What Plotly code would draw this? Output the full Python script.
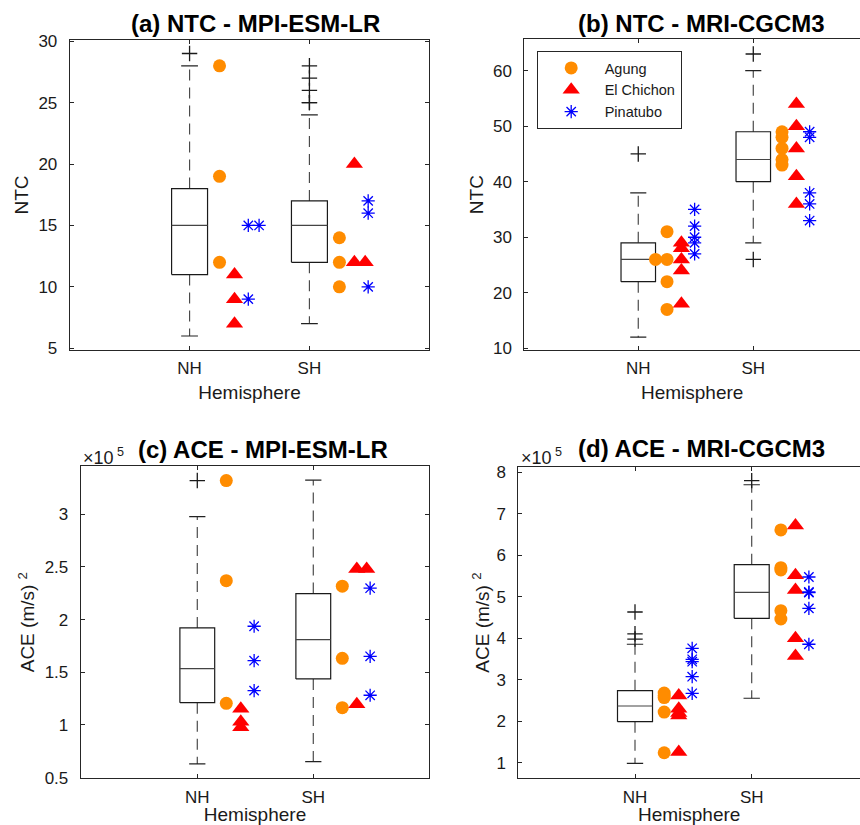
import plotly.graph_objects as go

# ---------------- data ----------------
hemispheres = ["NH", "SH"]
volcanoes = ["Agung", "El Chichon", "Pinatubo"]

# (a) NTC - MPI-ESM-LR
a_low = [6, 7]
a_q1 = [11, 12]
a_med = [15, 15]
a_q3 = [18, 17]
a_high = [28, 24]
a_outliers = [[29], [25, 25, 26, 27, 28]]
a_agung = [[28, 19, 12], [14, 12, 10]]
a_elchichon = [[11, 9, 7], [20, 12, 12]]
a_pinatubo = [[15, 15, 9], [17, 16, 10]]

# (b) NTC - MRI-CGCM3
b_low = [12, 29]
b_q1 = [22, 40]
b_med = [26, 44]
b_q3 = [29, 49]
b_high = [38, 60]
b_outliers = [[45], [63, 26]]
b_agung = [[31, 26, 26, 22, 17], [49, 48, 46, 44, 43]]
b_elchichon = [[29, 28, 26, 24, 18], [54, 50, 46, 41, 36]]
b_pinatubo = [[35, 32, 30, 29, 27], [49, 48, 38, 36, 33]]

# (c) ACE - MPI-ESM-LR  (units of 1e5 (m/s)^2)
c_low = [0.63, 0.652]
c_q1 = [1.212, 1.437]
c_med = [1.535, 1.81]
c_q3 = [1.921, 2.247]
c_high = [2.977, 3.323]
c_outliers = [[3.32], []]
c_agung = [[3.32, 2.37, 1.206], [2.317, 1.633, 1.164]]
c_elchichon = [[1.155, 1.03, 0.978], [2.48, 2.48, 1.197]]
c_pinatubo = [[1.937, 1.61, 1.326], [2.298, 1.652, 1.282]]

# (d) ACE - MRI-CGCM3  (units of 1e5 (m/s)^2)
d_low = [0.986, 2.553]
d_q1 = [1.99, 4.48]
d_med = [2.367, 5.108]
d_q3 = [2.736, 5.773]
d_high = [3.855, 7.70]
d_outliers = [[4.633, 4.107, 3.98], [7.80]]
d_agung = [[2.68, 2.62, 2.57, 2.22, 1.24], [6.61, 5.70, 5.645, 4.665, 4.464]]
d_elchichon = [[2.62, 2.30, 2.20, 2.14, 1.26], [6.72, 5.52, 5.16, 4.0, 3.57]]
d_pinatubo = [[3.758, 3.493, 3.435, 3.073, 2.673], [5.476, 5.115, 5.10, 4.72, 3.855]]

titles = ["(a) NTC - MPI-ESM-LR", "(b) NTC - MRI-CGCM3",
          "(c) ACE - MPI-ESM-LR", "(d) ACE - MRI-CGCM3"]
ylabels = ["NTC", "NTC", "ACE (m/s) <sup>2</sup>", "ACE (m/s) <sup>2</sup>"]

# ---------------- style ----------------
FONT = "Liberation Sans, Arial, Helvetica, sans-serif"
AXC = "#262626"
BOX_HALF = 0.15
CAP_HALF = 0.07
OFFSETS = [0.25, 0.375, 0.49]
DUP_SHIFT = [0.09, -0.10, 0.085, 0.0]
SYMBOLS = [dict(symbol="circle", size=13, color="#FF8C00"),
           dict(symbol="triangle-up", size=15, color="#FF0000"),
           dict(symbol="asterisk-open", size=11, color="#0000FF",
                line=dict(width=1.3, color="#0000FF"))]

panels = [
    (a_low, a_q1, a_med, a_q3, a_high, a_outliers, [a_agung, a_elchichon, a_pinatubo]),
    (b_low, b_q1, b_med, b_q3, b_high, b_outliers, [b_agung, b_elchichon, b_pinatubo]),
    (c_low, c_q1, c_med, c_q3, c_high, c_outliers, [c_agung, c_elchichon, c_pinatubo]),
    (d_low, d_q1, d_med, d_q3, d_high, d_outliers, [d_agung, d_elchichon, d_pinatubo]),
]

fig = go.Figure()


def jitter(vals, base, dup):
    seen = {}
    out = []
    for v in vals:
        k = seen.get(v, 0)
        out.append(base + k * dup)
        seen[v] = k + 1
    return out


for p, (low, q1, med, q3, high, outl, series) in enumerate(panels):
    xa = "x" if p == 0 else f"x{p+1}"
    ya = "y" if p == 0 else f"y{p+1}"
    bx, by, mx, my, wx, wy, cx, cy, ox, oy = [], [], [], [], [], [], [], [], [], []
    for i, h in enumerate(hemispheres):
        c = i + 1
        bx += [c - BOX_HALF, c + BOX_HALF, c + BOX_HALF, c - BOX_HALF, c - BOX_HALF, None]
        by += [q1[i], q1[i], q3[i], q3[i], q1[i], None]
        mx += [c - BOX_HALF, c + BOX_HALF, None]
        my += [med[i], med[i], None]
        wx += [c, c, None, c, c, None]
        wy += [q3[i], high[i], None, q1[i], low[i], None]
        cx += [c - CAP_HALF, c + CAP_HALF, None, c - CAP_HALF, c + CAP_HALF, None]
        cy += [high[i], high[i], None, low[i], low[i], None]
        ox += [c] * len(outl[i])
        oy += outl[i]
    common = dict(xaxis=xa, yaxis=ya, showlegend=False, hoverinfo="skip")
    fig.add_trace(go.Scatter(x=wx, y=wy, mode="lines",
                             line=dict(color="#4a4a4a", width=1.2, dash="11px,7px"), **common))
    fig.add_trace(go.Scatter(x=cx, y=cy, mode="lines",
                             line=dict(color="#222222", width=1.2), **common))
    fig.add_trace(go.Scatter(x=bx, y=by, mode="lines",
                             line=dict(color="#1a1a1a", width=1.2), **common))
    fig.add_trace(go.Scatter(x=mx, y=my, mode="lines",
                             line=dict(color="#444444", width=1.2), **common))
    fig.add_trace(go.Scatter(x=ox, y=oy, mode="markers",
                             marker=dict(symbol="cross-thin-open", size=11, color="#1a1a1a",
                                         line=dict(width=1.3, color="#1a1a1a")),
                             **common))
    for s, name in enumerate(volcanoes):
        xs, ys = [], []
        for i in range(len(hemispheres)):
            xs += [v + i + 1 for v in jitter(series[s][i], OFFSETS[s], DUP_SHIFT[p])]
            ys += series[s][i]
        fig.add_trace(go.Scatter(x=xs, y=ys, mode="markers", name=name,
                                 legendgroup=name, showlegend=(p == 0),
                                 marker=SYMBOLS[s], xaxis=xa, yaxis=ya))

W, H = 860, 825
# pixel boxes: left, top, right, bottom
boxes = [(69.7, 40, 429.3, 350), (524.3, 39.3, 860, 350),
         (80.7, 466, 429.3, 778.3), (518.3, 466.7, 860, 778.3)]
xranges = [[0, 3], [0.009, 2.928], [-0.005, 3.0], [0, 2.928]]
yranges = [[4.86, 30.1], [9.69, 65.65], [0.494, 3.458], [0.624, 8.135]]
ydticks = [5, 10, 0.5, 1]
yticks0 = [5, 10, 0.5, 1]
ytitle_standoff = [4, 4, 4, 1]
title_x = [1.55, 1.55, 1.57, 1.57]
title_ypx = [23.5, 23.5, 450, 449]

layout = dict(width=W, height=H, margin=dict(l=0, r=0, t=0, b=0, autoexpand=False),
              paper_bgcolor="white", plot_bgcolor="white",
              font=dict(family=FONT, color="#1a1a1a"),
              legend=dict(x=536.7 / W, y=1 - 51 / H, xanchor="left", yanchor="top",
                          bordercolor=AXC, borderwidth=1, bgcolor="white",
                          font=dict(size=14.5, family=FONT, color="#1a1a1a"),
                          itemwidth=57, tracegroupgap=0, entrywidth=88),
              annotations=[], showlegend=True)

for p in range(4):
    l, t, r, b = boxes[p]
    sx = "" if p == 0 else str(p + 1)
    cut = p in (1, 3)
    layout["xaxis" + sx] = dict(
        domain=[l / W, min(r / W, 1.0)], range=xranges[p], anchor="y" + sx,
        automargin=False,
        tickvals=[i + 1 for i in range(len(hemispheres))], ticktext=hemispheres,
        ticks="inside", ticklen=4, tickcolor=AXC, showline=True, linecolor=AXC,
        linewidth=1, mirror="ticks", showgrid=False, zeroline=False,
        tickfont=dict(size=17), ticklabelstandoff=3,
        title=dict(text="Hemisphere", font=dict(size=19), standoff=8))
    layout["yaxis" + sx] = dict(
        domain=[1 - b / H, 1 - t / H], range=yranges[p], anchor="x" + sx,
        automargin=False,
        tick0=yticks0[p], dtick=ydticks[p],
        ticks="inside", ticklen=4, tickcolor=AXC, showline=True, linecolor=AXC,
        linewidth=1, mirror=(False if cut else "ticks"), showgrid=False, zeroline=False,
        tickfont=dict(size=17), ticklabelstandoff=8,
        title=dict(text=ylabels[p], font=dict(size=19), standoff=ytitle_standoff[p]))
    layout["annotations"].append(dict(
        text="<b>" + titles[p] + "</b>", xref="x" + sx, yref="paper",
        x=title_x[p], y=1 - title_ypx[p] / H, xanchor="center", yanchor="middle",
        showarrow=False, font=dict(size=24, family=FONT, color="#000000")))

for p, lx in ((2, 81), (3, 519)):
    layout["annotations"].append(dict(
        text="×10<sup> 5</sup>", xref="paper", yref="paper",
        x=lx / W, y=1 - 456 / H, xanchor="left", yanchor="middle",
        showarrow=False, font=dict(size=18, family=FONT, color="#1a1a1a")))

fig.update_layout(**layout)
fig.write_html("out.html", config={"displayModeBar": False},
               post_script="document.body.style.margin='0px';document.body.style.overflow='hidden';")
